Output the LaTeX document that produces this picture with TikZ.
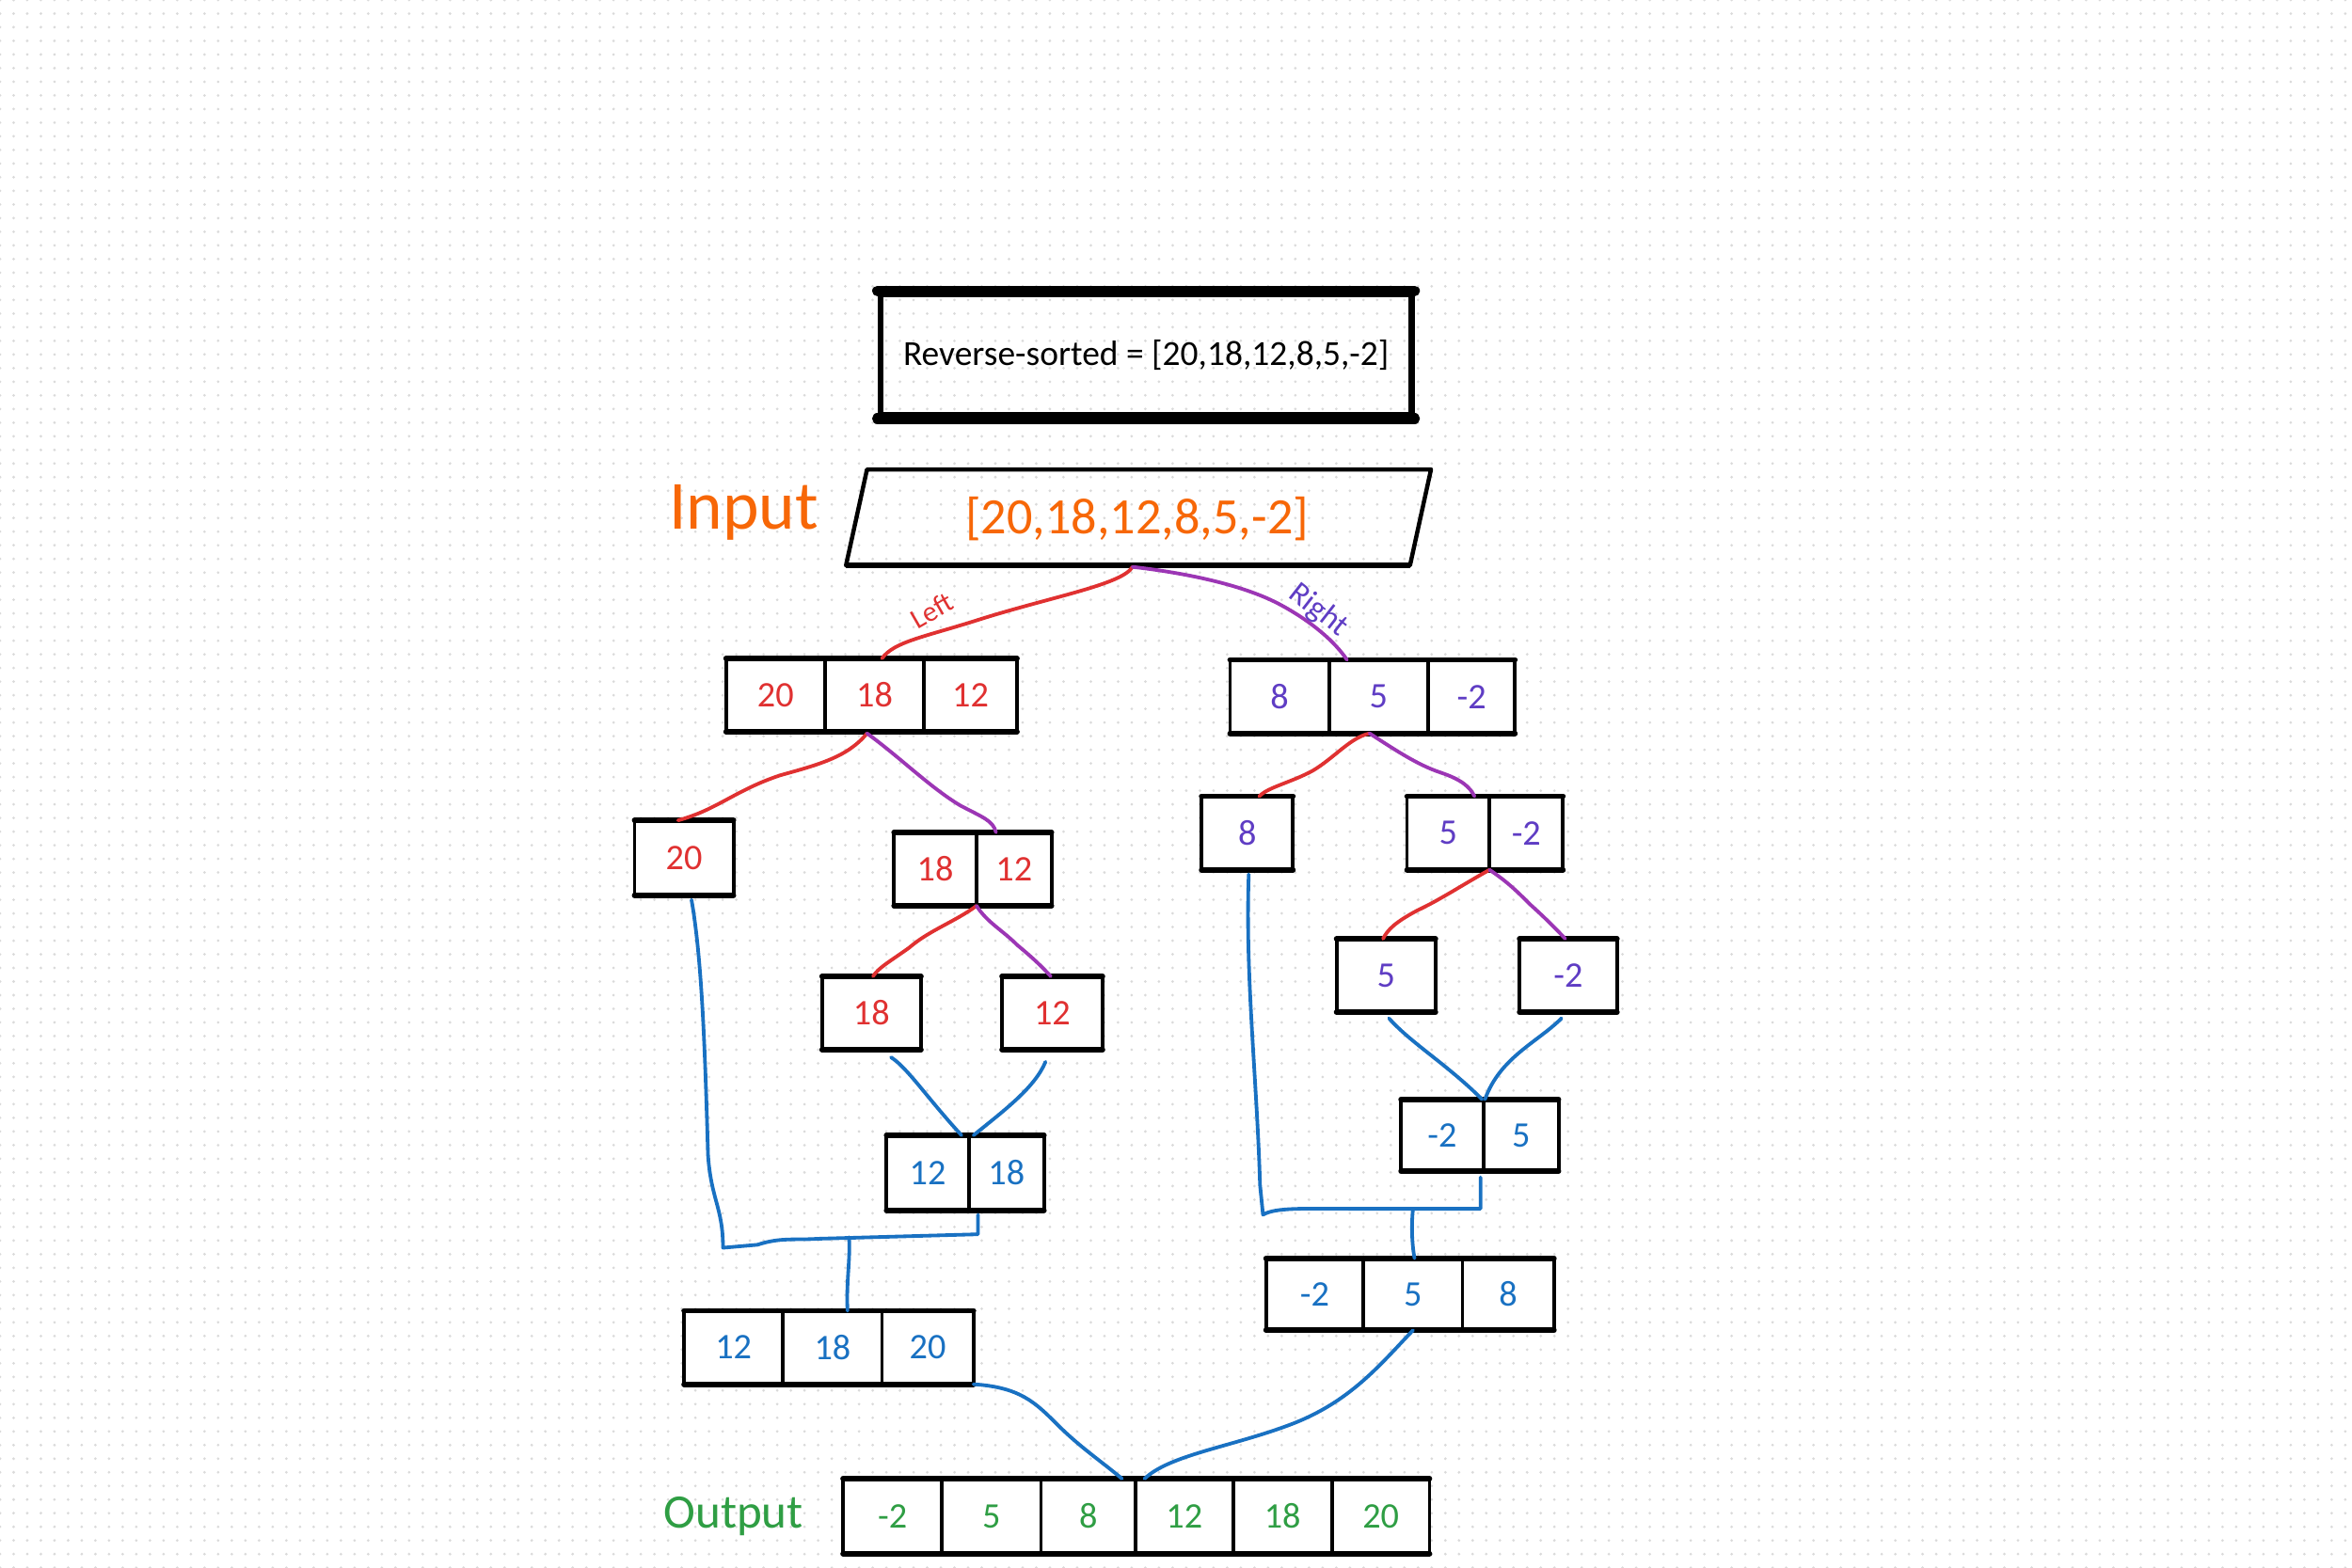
\documentclass[tikz,border=0pt]{standalone}
\usepackage{fontspec}
\setmainfont{Carlito}
\definecolor{cred}{HTML}{E03131}
\definecolor{cgrape}{HTML}{9C36B5}
\definecolor{cviolet}{HTML}{5F3DC4}
\definecolor{cblue}{HTML}{1971C2}
\definecolor{cgreen}{HTML}{2F9E44}
\definecolor{corange}{HTML}{F76707}
\definecolor{cdot}{HTML}{DADADA}
\tikzset{
  cellbox/.style={draw=black, line width=2.4pt, fill=white, inner sep=0pt, outer sep=0pt,
    font=\fontsize{24}{28}\selectfont},
  redline/.style={draw=cred, line width=2.4pt, line cap=round},
  grapeline/.style={draw=cgrape, line width=2.4pt, line cap=round},
  blueline/.style={draw=cblue, line width=2.4pt, line cap=round, line join=round},
  thickedge/.style={line width=3.6pt, line cap=round},
}
% \Cell{name}{x1}{x2}{y1}{y2}{color}{text}
\newcommand\Cell[7]{%
  \node[cellbox, text=#6, minimum width={(#3-#2)*1pt}, minimum height={(#5-#4)*1pt}]
    (#1) at ({(#2+#3)/2},{(#4+#5)/2}) {#7};}
% \Rows{first}{last}: heavier top and bottom edges of an array
\newcommand\Rows[2]{%
  \draw[thickedge] (#1.north west) -- (#2.north east);
  \draw[thickedge] (#1.south west) -- (#2.south east);}
\begin{document}
\begin{tikzpicture}[x=1pt,y=-1pt]
\useasboundingbox (0,0) rectangle (1568,1045.5);
\fill[white] (0,0) rectangle (1568,1045.5);
% dot grid
\foreach \i in {0,...,115}{
  \draw[cdot, line width=1.9pt, line cap=round, dash pattern=on 0pt off 9.09pt]
    (0,{\i*9.09}) -- (1568,{\i*9.09});
}
% title box
\node[draw=black, line width=4.2pt, minimum width=354pt, minimum height=81pt, inner sep=0pt,
  font=\fontsize{23.5}{28}\selectfont] (title) at (764,236.5) {Reverse-sorted = [20,18,12,8,5,-2]};
\draw[line width=7pt, line cap=round] (title.north west) -- (title.north east);
\draw[line width=7pt, line cap=round] (title.south west) -- (title.south east);
% input parallelogram
\coordinate (pTL) at (578,313);
\coordinate (pTR) at (954,313);
\coordinate (pBR) at (940,377);
\coordinate (pBL) at (564,377);
\draw[line width=2.8pt, line join=round] (pTL) -- (pTR) -- (pBR) -- (pBL) -- cycle;
\draw[line width=3.8pt] (pBL) -- (pBR);
\node[text=corange, font=\fontsize{34}{40}\selectfont] (inval) at (758,346) {[20,18,12,8,5,-2]};
\node[text=corange, font=\fontsize{46}{50}\selectfont] (inlbl) at (496,342) {Input};
\coordinate (inb) at (755,378);
% level 1
\Cell{la}{484}{550}{439}{488}{cred}{20}
\Cell{lb}{550}{616}{439}{488}{cred}{18}
\Cell{lc}{616}{678}{439}{488}{cred}{12}
\Rows{la}{lc}
\Cell{ra}{820}{886}{440}{489}{cviolet}{8}
\Cell{rb}{886}{952}{440}{489}{cviolet}{5}
\Cell{rc}{952}{1010}{440}{489}{cviolet}{-2}
\Rows{ra}{rc}
% level 2 left
\Cell{t20}{423}{489}{547}{597}{cred}{20}
\Rows{t20}{t20}
\Cell{ta}{596}{651}{555}{604}{cred}{18}
\Cell{tb}{651}{701}{555}{604}{cred}{12}
\Rows{ta}{tb}
% level 3 left
\Cell{s18}{548}{614}{651}{700}{cred}{18}
\Rows{s18}{s18}
\Cell{s12}{668}{735}{651}{700}{cred}{12}
\Rows{s12}{s12}
% merged 12 18
\Cell{ma}{591}{646}{757}{807}{cblue}{12}
\Cell{mb}{646}{696}{757}{807}{cblue}{18}
\Rows{ma}{mb}
% level 2 right
\Cell{e8}{801}{862}{531}{580}{cviolet}{8}
\Rows{e8}{e8}
\Cell{fa}{938}{993}{531}{580}{cviolet}{5}
\Cell{fb}{993}{1042}{531}{580}{cviolet}{-2}
\Rows{fa}{fb}
% level 3 right
\Cell{g5}{891}{957}{626}{675}{cviolet}{5}
\Rows{g5}{g5}
\Cell{gm}{1013}{1078}{626}{675}{cviolet}{-2}
\Rows{gm}{gm}
% merged -2 5
\Cell{ha}{934}{989}{733}{781}{cblue}{-2}
\Cell{hb}{989}{1039}{733}{781}{cblue}{5}
\Rows{ha}{hb}
% merged 12 18 20
\Cell{oa}{456}{522}{874}{923}{cblue}{12}
\Cell{ob}{522}{588}{874}{923}{cblue}{18}
\Cell{oc}{588}{649}{874}{923}{cblue}{20}
\Rows{oa}{oc}
% merged -2 5 8
\Cell{qa}{844}{909}{839}{887}{cblue}{-2}
\Cell{qb}{909}{975}{839}{887}{cblue}{5}
\Cell{qc}{975}{1036}{839}{887}{cblue}{8}
\Rows{qa}{qc}
% output
\Cell{u1}{562}{628}{986}{1036}{cgreen}{-2}
\Cell{u2}{628}{694}{986}{1036}{cgreen}{5}
\Cell{u3}{694}{757}{986}{1036}{cgreen}{8}
\Cell{u4}{757}{822}{986}{1036}{cgreen}{12}
\Cell{u5}{822}{888}{986}{1036}{cgreen}{18}
\Cell{u6}{888}{953}{986}{1036}{cgreen}{20}
\Rows{u1}{u6}
\node[text=cgreen, font=\fontsize{32}{36}\selectfont] (outlbl) at (489,1011) {Output};
% split connectors
\draw[redline] (inb) .. controls (748,390) and (700,398) .. (650,414) .. controls (615,425) and (596,428) .. ([xshift=5pt]lb.north);
\draw[grapeline] (inb) .. controls (790,382) and (830,390) .. (855,404) .. controls (875,415) and (890,428) .. ([xshift=-21pt]rb.north);
\node[text=cred, rotate=30, font=\fontsize{19}{22}\selectfont] (leftlbl) at (621,407) {Left};
\node[text=cviolet, rotate=-38, font=\fontsize{21}{24}\selectfont] (rightlbl) at (879,407) {Right};

\coordinate (lbot) at (578,489);
\draw[redline] (lbot) .. controls (565,505) and (545,510) .. (520,517) .. controls (490,527) and (478,540) .. ([xshift=-4pt]t20.north);
\draw[grapeline] (lbot) .. controls (600,505) and (620,525) .. (640,537) .. controls (655,545) and (662,547) .. ([xshift=13pt]tb.north west);
\draw[redline] (ta.south east) .. controls (636,615) and (620,620) .. (606,632) .. controls (592,642) and (586,645) .. ([xshift=1pt]s18.north);
\draw[grapeline] (ta.south east) .. controls (658,615) and (668,620) .. (678,630) .. controls (690,640) and (695,645) .. ([xshift=-1pt]s12.north);
\draw[blueline] (594,705) .. controls (605,712) and (618,732) .. ([xshift=-5pt]ma.north east);
\draw[blueline] (697,708) .. controls (690,725) and (670,740) .. ([xshift=3pt]mb.north west);

\coordinate (rbot) at (913,489);
\draw[redline] (rbot) .. controls (900,492) and (890,505) .. (875,514) .. controls (860,522) and (845,525) .. ([xshift=8pt]e8.north);
\draw[grapeline] (rbot) .. controls (930,500) and (945,510) .. (960,515) .. controls (975,520) and (980,525) .. ([xshift=-10pt]fa.north east);
\draw[redline] (fa.south east) .. controls (975,590) and (960,600) .. (945,607) .. controls (930,615) and (925,620) .. ([xshift=-2pt]g5.north);
\draw[grapeline] (fa.south east) .. controls (1005,588) and (1012,595) .. (1020,603) .. controls (1030,612) and (1038,620) .. ([xshift=-2pt]gm.north);
\draw[blueline] (926,679) .. controls (940,695) and (965,710) .. ([xshift=-1pt]ha.north east);
\draw[blueline] (1041,679) .. controls (1025,695) and (1000,705) .. ([xshift=1pt]hb.north west);

% left merge
\coordinate (jL) at (566,825);
\draw[blueline] ([xshift=5pt]t20.south) ++(0,3) .. controls (468,640) and (470,700) .. (472,770) .. controls (474,800) and (482,805) .. (482,832) -- (505,830) .. controls (520,825) and (530,827) .. (545,826) -- (652,823) -- ([xshift=6pt,yshift=-3pt]mb.south west);
\draw[blueline] (jL) .. controls (567,840) and (564,855) .. ([xshift=10pt]ob.north);
% right merge
\coordinate (jR) at (942,806);
\draw[blueline] ([xshift=1pt]e8.south) ++(0,3) .. controls (830,650) and (838,720) .. (840,790) -- (842,810) .. controls (850,805) and (870,806) .. (900,806) -- (987,806) -- ([xshift=-2pt,yshift=-4pt]ha.south east);
\draw[blueline] (jR) .. controls (941,815) and (941,828) .. ([xshift=1pt]qb.north);
% final merge
\draw[blueline] (oc.south east) .. controls (680,925) and (690,935) .. (705,950) .. controls (720,965) and (735,975) .. ([xshift=-9pt]u3.north east);
\draw[blueline] (qb.south) .. controls (920,910) and (900,935) .. (860,950) .. controls (820,965) and (780,970) .. ([xshift=6pt]u4.north west);
\end{tikzpicture}
\end{document}
